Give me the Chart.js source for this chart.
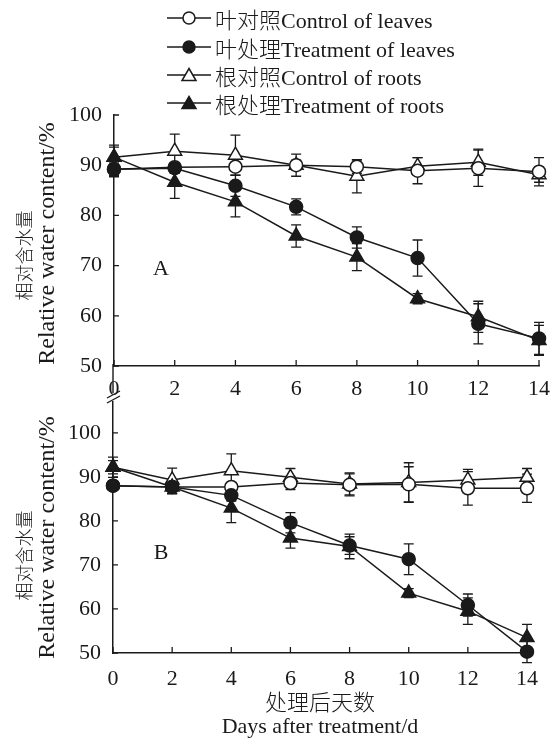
<!DOCTYPE html>
<html>
<head>
<meta charset="utf-8">
<script src="https://cdn.jsdelivr.net/npm/chart.js@4"></script>
<style>
    body { margin: 0; background: #fff; }
    #wrap { position: relative; width: 560px; height: 739px; overflow: hidden;
            font-family: "Liberation Serif", "Noto Sans CJK SC", serif; color: #1a1a1a; }
    canvas { position: absolute; left: 0; }
    #chartA { top: 0; }
    #chartB { top: 360px; }
    .leg { position: absolute; left: 167px; height: 28px; display: flex; align-items: center;
           font-size: 22px; font-weight: 300; white-space: nowrap; }
    .leg svg { margin-right: 4px; }
    .panel { position: absolute; font-size: 22px; transform: translate(-50%, -50%); }
</style>
</head>
<body>
<div id="wrap">
    <canvas id="chartA" width="560" height="400"></canvas>
    <canvas id="chartB" width="560" height="379"></canvas>
    <div id="legend"></div>
    <div class="panel" style="left:161px;top:268px;">A</div>
    <div class="panel" style="left:161px;top:552px;">B</div>
</div>
<script>
const ink = '#1a1a1a';
const fontFamily = '"Liberation Serif", "Noto Sans CJK SC", serif';

// Days after treatment
const days = [0, 2, 4, 6, 8, 10, 12, 14];
const xTicks = [0, 2, 4, 6, 8, 10, 12, 14];
const yTicks = [50, 60, 70, 80, 90, 100];

const seriesNames = ['叶对照Control of leaves', '叶处理Treatment of leaves',
                     '根对照Control of roots', '根处理Treatment of roots'];

// Panel A
const leafCtrlA  = [89.2, 89.6, 89.7, 90.0, 89.7, 88.9, 89.4, 88.7];
const leafTreatA = [89.2, 89.4, 85.9, 81.7, 75.6, 71.5, 58.4, 55.5];
const rootCtrlA  = [91.6, 92.8, 92.0, 90.0, 87.8, 89.8, 90.6, 88.1];
const rootTreatA = [91.6, 86.6, 82.7, 75.9, 71.7, 63.4, 59.8, 55.1];
const leafCtrlErrA  = [1.5, 0.9, 0.8, 1.0, 1.3, 2.6, 3.6, 2.8];
const leafTreatErrA = [1.2, 1.0, 2.1, 1.6, 2.1, 3.6, 4.0, 3.2];
const rootCtrlErrA  = [2.4, 3.4, 4.0, 2.2, 3.3, 1.7, 2.6, 1.5];
const rootTreatErrA = [2.0, 3.2, 3.0, 2.2, 2.7, 1.0, 3.1, 3.0];

// Panel B
const leafCtrlB  = [88.0, 87.7, 87.7, 88.6, 88.2, 88.3, 87.4, 87.4];
const leafTreatB = [88.0, 87.7, 85.8, 79.6, 74.4, 71.3, 60.9, 50.3];
const rootCtrlB  = [92.2, 89.3, 91.4, 89.9, 88.4, 88.7, 89.3, 89.9];
const rootTreatB = [92.2, 87.7, 82.9, 76.1, 74.2, 63.6, 59.5, 53.5];
const leafCtrlErrB  = [1.0, 1.5, 1.0, 1.5, 2.5, 4.0, 3.8, 3.2];
const leafTreatErrB = [1.0, 1.5, 1.3, 2.3, 2.0, 3.5, 2.5, 2.5];
const rootCtrlErrB  = [1.5, 2.7, 3.8, 2.0, 2.5, 4.5, 2.4, 2.0];
const rootTreatErrB = [2.3, 1.5, 3.3, 2.3, 2.8, 1.0, 3.0, 3.0];

const markers = [
    { style: 'circle', filled: false },
    { style: 'circle', filled: true },
    { style: 'triangle', filled: false },
    { style: 'triangle', filled: true }
];

// legend (html)
function symbolSvg(m) {
    const fill = m.filled ? ink : '#fff';
    const shape = m.style === 'circle'
        ? `<circle cx="22" cy="9" r="6" fill="${fill}" stroke="${ink}" stroke-width="1.5"/>`
        : `<polygon points="22,2.5 29,14.5 15,14.5" fill="${fill}" stroke="${ink}" stroke-width="1.5"/>`;
    return `<svg width="44" height="18"><line x1="0" y1="9" x2="44" y2="9" stroke="${ink}" stroke-width="1.5"/>${shape}</svg>`;
}
const legendRows = [18, 47, 75, 103];
document.getElementById('legend').innerHTML = seriesNames.map((name, i) =>
    `<div class="leg" style="top:${legendRows[i] - 14}px">${symbolSvg(markers[i])}<span>${name}</span></div>`
).join('');

function makeDataset(i, values, errors) {
    const m = markers[i];
    return {
        label: seriesNames[i],
        data: days.map((d, k) => ({ x: d, y: values[k] })),
        errors: errors,
        borderColor: ink,
        borderWidth: 1.5,
        pointStyle: m.style,
        pointRadius: m.style === 'triangle' ? 8 : 6.5,
        pointBackgroundColor: m.filled ? ink : '#fff',
        pointBorderColor: ink,
        pointBorderWidth: 1.5,
        tension: 0,
        fill: false,
        clip: false
    };
}

// error bars under the markers
const errorBars = {
    id: 'errorBars',
    beforeDatasetsDraw(chart) {
        const { ctx, scales: { x, y } } = chart;
        ctx.save();
        ctx.strokeStyle = ink;
        ctx.lineWidth = 1.3;
        chart.data.datasets.forEach(ds => {
            ds.data.forEach((p, i) => {
                const e = ds.errors[i];
                const px = x.getPixelForValue(p.x);
                const top = y.getPixelForValue(p.y + e);
                const bot = y.getPixelForValue(p.y - e);
                ctx.beginPath();
                ctx.moveTo(px, top); ctx.lineTo(px, bot);
                ctx.moveTo(px - 5, top); ctx.lineTo(px + 5, top);
                ctx.moveTo(px - 5, bot); ctx.lineTo(px + 5, bot);
                ctx.stroke();
            });
        });
        ctx.restore();
    }
};

// tick marks pointing into the plot
const innerTicks = {
    id: 'innerTicks',
    afterDraw(chart) {
        const { ctx, chartArea: a, scales: { x, y } } = chart;
        ctx.save();
        ctx.strokeStyle = ink;
        ctx.lineWidth = 1.3;
        ctx.beginPath();
        yTicks.forEach(v => {
            const py = y.getPixelForValue(v);
            ctx.moveTo(a.left, py); ctx.lineTo(a.left + 5, py);
        });
        xTicks.forEach(v => {
            const px = x.getPixelForValue(v);
            ctx.moveTo(px, a.bottom); ctx.lineTo(px, a.bottom - 6);
        });
        ctx.stroke();
        ctx.restore();
    }
};

// two-line rotated y title (Chinese smaller than English)
const yTitle = {
    id: 'yTitle',
    afterDraw(chart, args, opts) {
        const { ctx, chartArea: a } = chart;
        const cy = (a.top + a.bottom) / 2;
        ctx.save();
        ctx.fillStyle = ink;
        ctx.textAlign = 'center';
        ctx.textBaseline = 'middle';
        [[opts.zh, 26, cy + opts.zhShift, '300 18px '], [opts.en, 48, cy + opts.enShift, '24px ']].forEach(([t, x, y, f]) => {
            ctx.save();
            ctx.translate(x, y);
            ctx.rotate(-Math.PI / 2);
            ctx.font = f + fontFamily;
            ctx.fillText(t, 0, 0);
            ctx.restore();
        });
        ctx.restore();
    }
};

// axis break mark between the panels
const axisBreak = {
    id: 'axisBreak',
    afterDraw(chart, args, opts) {
        if (!opts.show) return;
        const { ctx, chartArea: a } = chart;
        ctx.save();
        ctx.strokeStyle = ink;
        ctx.lineWidth = 1.4;
        ctx.beginPath();
        ctx.moveTo(a.left, a.top - 38); ctx.lineTo(a.left, a.top - 9);
        ctx.moveTo(a.left - 6, a.top - 4); ctx.lineTo(a.left + 7, a.top - 11);
        ctx.moveTo(a.left - 6, a.top + 1); ctx.lineTo(a.left + 7, a.top - 6);
        ctx.stroke();
        ctx.restore();
    }
};

function makePanel(id, datasets, p) {
    return new Chart(document.getElementById(id), {
        type: 'line',
        data: { datasets: datasets },
        options: {
            responsive: false,
            animation: false,
            devicePixelRatio: 1,
            layout: { padding: p.padding },
            plugins: {
                legend: { display: false },
                tooltip: { enabled: false },
                yTitle: { zh: '相对含水量', en: 'Relative water content/%', zhShift: p.zhShift, enShift: p.enShift },
                axisBreak: { show: p.brk }
            },
            scales: {
                x: {
                    type: 'linear', min: 0, max: 14,
                    afterBuildTicks: s => { s.ticks = xTicks.map(v => ({ value: v })); },
                    afterFit: s => { s.height = p.xHeight; },
                    grid: { display: false, drawTicks: false },
                    border: { display: true, color: ink, width: 1.5 },
                    ticks: { color: ink, padding: p.xPad, autoSkip: false, maxRotation: 0,
                             font: { family: fontFamily, size: 22 } },
                    title: {
                        display: p.xTitle, text: ['处理后天数', 'Days after treatment/d'], color: ink,
                        padding: 0, font: { family: fontFamily, size: 22, weight: '300', lineHeight: 1.05 }
                    }
                },
                y: {
                    min: 50, max: p.yMax,
                    afterBuildTicks: s => { s.ticks = yTicks.map(v => ({ value: v })); },
                    afterFit: s => { s.width = p.yWidth; },
                    grid: { display: false, drawTicks: false },
                    border: { display: true, color: ink, width: 1.5 },
                    ticks: { color: ink, padding: 12, font: { family: fontFamily, size: 22 } }
                }
            }
        },
        plugins: [errorBars, innerTicks, yTitle, axisBreak]
    });
}

makePanel('chartA', [
    makeDataset(1, leafTreatA, leafTreatErrA),
    makeDataset(3, rootTreatA, rootTreatErrA),
    makeDataset(0, leafCtrlA, leafCtrlErrA),
    makeDataset(2, rootCtrlA, rootCtrlErrA)
], { padding: { top: 115, right: 20, bottom: 0, left: 0 }, yWidth: 114, xHeight: 34, xPad: 10,
     yMax: 100, xTitle: false, brk: false, zhShift: 15, enShift: 3 });

makePanel('chartB', [
    makeDataset(1, leafTreatB, leafTreatErrB),
    makeDataset(3, rootTreatB, rootTreatErrB),
    makeDataset(0, leafCtrlB, leafCtrlErrB),
    makeDataset(2, rootCtrlB, rootCtrlErrB)
], { padding: { top: 42, right: 33, bottom: 0, left: 0 }, yWidth: 113, xHeight: 86, xPad: 13,
     yMax: 107, xTitle: true, brk: true, zhShift: 28, enShift: 10 });
</script>
</body>
</html>
